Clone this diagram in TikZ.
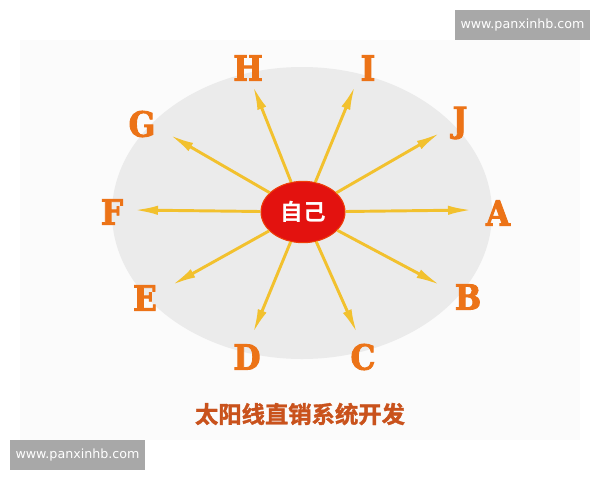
\documentclass[tikz,border=0pt]{standalone}
\usepackage{fontspec}
\newfontfamily\cjkb[FakeBold=1.5]{Noto Sans CJK SC Bold}
\newfontfamily\cjkh{Noto Sans CJK SC Bold}
\newfontfamily\lbl[FakeBold=2.5]{DejaVu Serif Condensed Bold}
\newfontfamily\wm{DejaVu Sans}
\usetikzlibrary{arrows.meta,shapes.geometric}
\definecolor{panel}{HTML}{FBFBFB}
\definecolor{oval}{HTML}{EBEBEB}
\definecolor{hub}{HTML}{E3120F}
\definecolor{ray}{HTML}{F2C12E}
\definecolor{lblc}{HTML}{EC7317}
\definecolor{titlec}{HTML}{C9521C}
\definecolor{wmbox}{HTML}{A8A8A8}
\tikzset{
  letter/.style={font=\lbl\fontsize{26}{28}\selectfont, text=lblc, inner sep=0pt},
  rayarrow/.style={draw=ray, line width=2.2pt, -{Latex[length=18pt,width=7pt]}},
  wmark/.style={fill=wmbox, text=white, font=\wm\fontsize{9.5}{11}\selectfont, minimum width=101pt, minimum height=22.5pt, inner sep=0pt},
}
\begin{document}
\begin{tikzpicture}[x=0.75pt,y=-0.75pt]
\useasboundingbox (0,0) rectangle (600,480);
\fill[white] (0,0) rectangle (600,480);
\fill[panel] (20,40) rectangle (580,440);
\fill[oval] (302,213) ellipse [x radius=190, y radius=146];
\node[draw=hub!60!orange, line width=0.8pt, fill=hub, ellipse, minimum width=63pt, minimum height=46pt, inner sep=0pt, text=white, font=\cjkh\fontsize{17}{19}\selectfont] (hub) at (303,212) {自己};
% labels
\node[letter] (H) at (248,68) {H};
\node[letter] (I) at (368,68) {I};
\node[letter] (G) at (142,124) {G};
\node[letter] (J) at (460,123) {J};
\node[letter] (F) at (112,212) {F};
\node[letter] (A) at (498,213) {A};
\node[letter] (E) at (145,298) {E};
\node[letter] (B) at (468,297) {B};
\node[letter] (D) at (247,357) {D};
\node[letter] (C) at (363,357) {C};
% arrow tip coordinates
\coordinate (tH) at (253,86);
\coordinate (tI) at (355,86);
\coordinate (tG) at (170,135);
\coordinate (tJ) at (440,133);
\coordinate (tF) at (134,210);
\coordinate (tA) at (472,210);
\coordinate (tE) at (172,285);
\coordinate (tB) at (440,285);
\coordinate (tD) at (253,333);
\coordinate (tC) at (357,333);
\foreach \t in {tH,tI,tG,tJ,tF,tA,tE,tB,tD,tC}{
  \draw[rayarrow] (hub) -- (\t);
}
\node[font=\cjkb\fontsize{17.5}{19}\selectfont, text=titlec] (title) at (300,414) {太阳线直销系统开发};
\node[wmark] (wm1) at (522.5,25) {www.panxinhb.com};
\node[wmark] (wm2) at (77.5,455) {www.panxinhb.com};
\end{tikzpicture}
\end{document}
